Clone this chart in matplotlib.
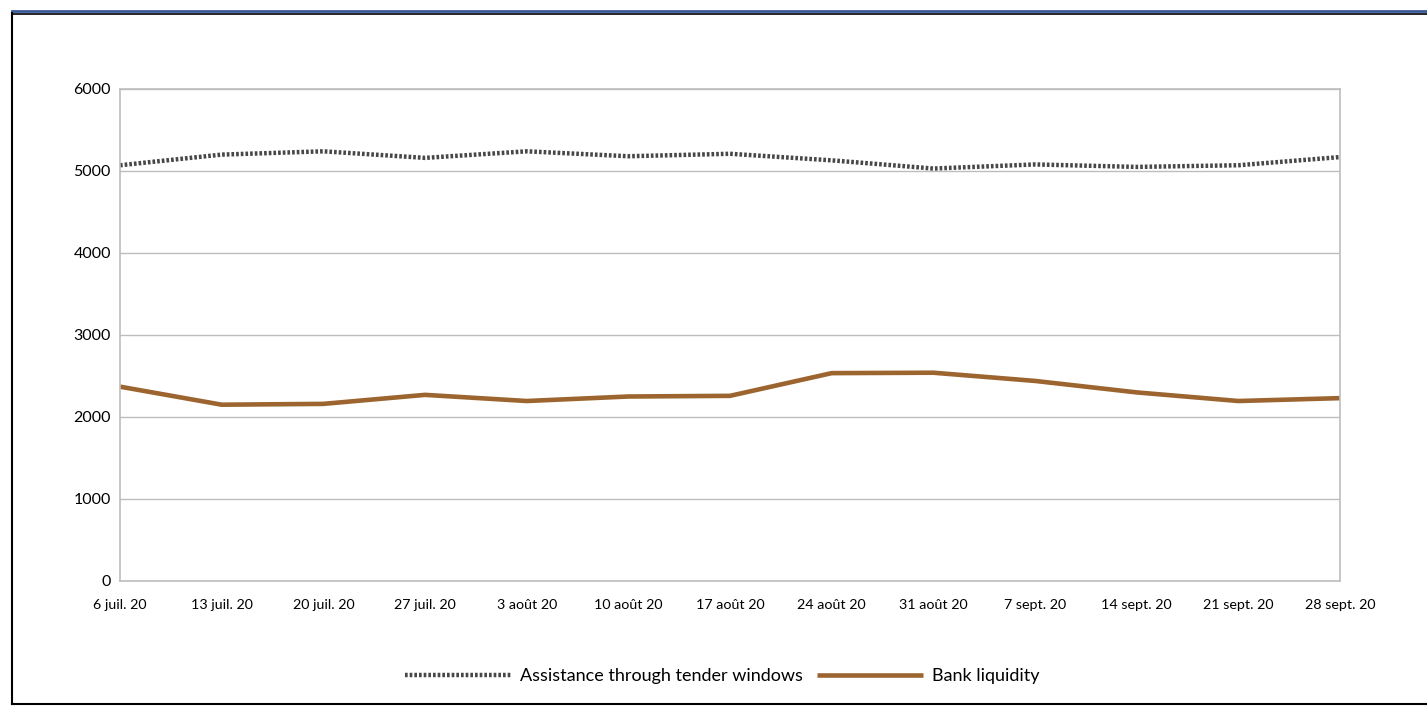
import matplotlib
matplotlib.use("Agg")
import matplotlib.pyplot as plt
from matplotlib.lines import Line2D

# weekly dates (labels as in source)
dates = ["6 juil. 20", "13 juil. 20", "20 juil. 20", "27 juil. 20", "3 août 20",
         "10 août 20", "17 août 20", "24 août 20", "31 août 20", "7 sept. 20",
         "14 sept. 20", "21 sept. 20", "28 sept. 20"]
assistance = [5070, 5200, 5240, 5160, 5240, 5180, 5210, 5130, 5030, 5080, 5050, 5070, 5170]
liquidity = [2370, 2150, 2160, 2270, 2195, 2250, 2258, 2535, 2540, 2440, 2300, 2195, 2230]

plt.rcParams['font.family'] = ['Lato', 'DejaVu Sans']

fig = plt.figure(figsize=(14.27, 7.06), dpi=100)
ax = fig.add_axes([120/1427, 1-581/706, 1220/1427, 492/706])

x = range(len(dates))
ax.plot(x, assistance, color='#474747', lw=3.2, linestyle=(0, (0.6, 0.45)),
        label='Assistance through tender windows')
ax.plot(x, liquidity, color='#9C6530', lw=3.3, solid_capstyle='butt',
        label='Bank liquidity')

ax.set_xlim(0, len(dates)-1)
ax.set_ylim(0, 6000)
ax.set_yticks(range(0, 6001, 1000))
ax.set_xticks(list(x))
ax.set_xticklabels(dates)
ax.tick_params(axis='both', length=0, colors='black')
ax.tick_params(axis='x', pad=13, labelsize=10.3)
ax.tick_params(axis='y', pad=6.5, labelsize=11.5)
ax.grid(axis='y', color='#BDBDBD', lw=1)
ax.set_axisbelow(True)
for s in ax.spines.values():
    s.set_color('#BDBDBD')
    s.set_linewidth(1.2)

fig.legend(loc='center', bbox_to_anchor=(722/1427, 1-676/706), ncol=2, frameon=False,
           fontsize=13, handlelength=5.9, columnspacing=0.8, handletextpad=0.45)

# outer frame (open on the right)
fig.add_artist(Line2D([12/1427, 1], [1-11/706, 1-11/706], color='#3A5A9A', lw=2))
fig.add_artist(Line2D([12/1427, 1], [1-13.5/706, 1-13.5/706], color='black', lw=1.2))
fig.add_artist(Line2D([12/1427, 12/1427], [1-13/706, 1-704/706], color='black', lw=1.5))
fig.add_artist(Line2D([12/1427, 1], [1-704/706, 1-704/706], color='black', lw=1.5))

fig.savefig('out.png', dpi=100)
